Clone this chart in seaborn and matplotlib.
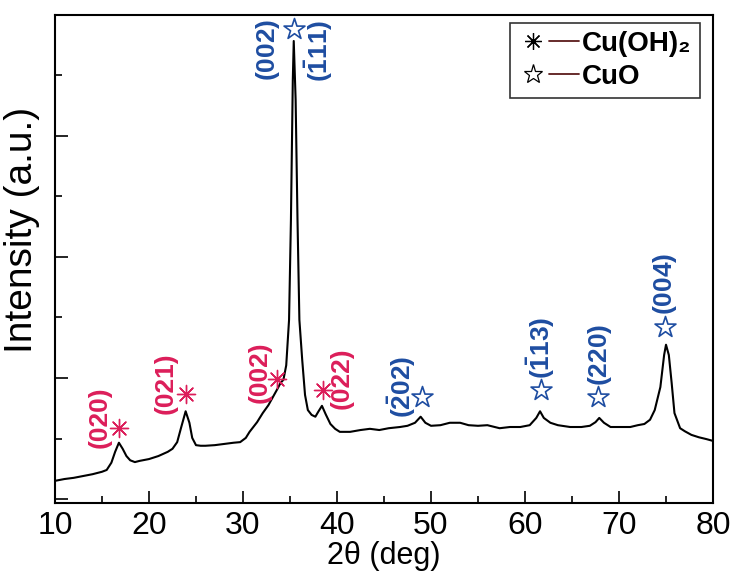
import matplotlib
matplotlib.use("Agg")
import matplotlib.pyplot as plt
import seaborn as sns
import pandas as pd
from matplotlib.lines import Line2D
from matplotlib.legend_handler import HandlerTuple
from matplotlib.ticker import MultipleLocator

# ---------------- data ----------------
two_theta = [10.0, 11.0, 12.0, 13.0, 14.0, 15.0, 15.5, 16.0, 16.4, 16.8, 17.2, 17.6,
             18.0, 18.5, 19.0, 20.0, 21.0, 22.0, 22.5, 23.0, 23.4, 23.9, 24.3, 24.6,
             25.0, 25.5, 26.0, 27.0, 28.0, 29.0, 29.7, 30.3, 30.7, 31.5, 32.1, 32.7,
             33.2, 33.7, 34.0, 34.3, 34.6, 34.9, 35.1, 35.3, 35.4, 35.6, 35.8, 36.0,
             36.3, 36.6, 36.9, 37.3, 37.7, 38.0, 38.4, 38.8, 39.3, 39.8, 40.3, 41.4,
             42.5, 43.5, 44.5, 45.5, 46.7, 47.5, 48.3, 48.9, 49.4, 50.0, 51.0, 52.0,
             53.1, 54.0, 55.0, 56.0, 57.3, 58.4, 59.5, 60.5, 61.2, 61.6, 62.0, 62.7,
             63.5, 64.8, 66.0, 66.9, 67.5, 67.9, 68.4, 69.1, 70.0, 71.2, 72.0, 72.7,
             73.3, 73.8, 74.4, 74.8, 75.0, 75.3, 75.6, 75.9, 76.5, 77.0, 77.7, 78.5,
             79.3, 80.0]
intensity = [0.30, 0.33, 0.35, 0.38, 0.41, 0.45, 0.48, 0.60, 0.78, 0.93, 0.83, 0.71,
             0.64, 0.61, 0.63, 0.66, 0.71, 0.78, 0.83, 0.94, 1.17, 1.45, 1.26, 1.01,
             0.89, 0.88, 0.88, 0.89, 0.91, 0.93, 0.94, 1.01, 1.11, 1.27, 1.42, 1.55,
             1.69, 1.83, 1.92, 1.97, 2.21, 2.96, 4.61, 6.93, 7.57, 6.60, 4.61, 2.96,
             2.30, 1.72, 1.47, 1.39, 1.36, 1.44, 1.54, 1.40, 1.24, 1.16, 1.11, 1.11,
             1.14, 1.16, 1.14, 1.17, 1.19, 1.21, 1.26, 1.36, 1.26, 1.21, 1.22, 1.26,
             1.26, 1.22, 1.21, 1.22, 1.17, 1.19, 1.19, 1.22, 1.34, 1.45, 1.34, 1.26,
             1.22, 1.19, 1.19, 1.21, 1.27, 1.34, 1.26, 1.19, 1.19, 1.19, 1.22, 1.24,
             1.31, 1.47, 1.85, 2.38, 2.55, 2.38, 1.92, 1.42, 1.17, 1.12, 1.06, 1.02,
             0.99, 0.96]

# Cu(OH)2 reflections
cuoh_x = [16.8, 23.9, 33.6, 38.5]
cuoh_y = [1.17, 1.74, 1.98, 1.80]
cuoh_labels = ["(020)", "(021)", "(002)", "(022)"]
cuoh_label_x = [14.8, 21.8, 31.8, 40.5]
cuoh_label_y = [1.36, 1.92, 2.10, 2.00]

# CuO reflections
cuo_x = [35.4, 49.0, 61.7, 67.8, 74.9]
cuo_y = [7.77, 1.69, 1.80, 1.69, 2.84]
cuo_labels = [r"$\mathbf{(002)}$", r"$\mathbf{(\bar{1}11)}$", r"$\mathbf{(\bar{2}02)}$",
              r"$\mathbf{(\bar{1}13)}$", r"$\mathbf{(220)}$", r"$\mathbf{(004)}$"]
cuo_label_x = [32.7, 38.0, 46.9, 61.7, 68.0, 74.9]
cuo_label_y = [7.42, 7.40, 1.85, 2.50, 2.38, 3.55]

x_ticks = [10, 20, 30, 40, 50, 60, 70, 80]
legend_labels = ["Cu(OH)\u2082", "CuO"]

# ---------------- styling ----------------
RED = "#DC1E5A"
BLUE = "#1E4DA1"
sns.set_theme(style="ticks")
plt.rcParams["font.family"] = ["Liberation Sans", "DejaVu Sans"]
plt.rcParams["mathtext.fontset"] = "custom"
plt.rcParams["mathtext.rm"] = "Liberation Sans"
plt.rcParams["mathtext.bf"] = "Liberation Sans:bold"
plt.rcParams["text.color"] = "black"
plt.rcParams["axes.labelcolor"] = "black"
plt.rcParams["xtick.color"] = "black"
plt.rcParams["ytick.color"] = "black"
plt.rcParams["xtick.labelcolor"] = "black"

fig = plt.figure(figsize=(7.34, 5.74), dpi=100)
ax = fig.add_axes([0.0749, 0.1237, 0.8965, 0.8502])

df = pd.DataFrame({"two_theta": two_theta, "intensity": intensity})
sns.lineplot(data=df, x="two_theta", y="intensity", ax=ax, color="black",
             linewidth=1.5, sort=False, estimator=None)

asterisk = (8, 2, 0)
sns.scatterplot(x=cuoh_x, y=cuoh_y, ax=ax, marker=asterisk, s=170, color=RED,
                linewidth=1.0, zorder=5)
sns.scatterplot(x=cuo_x, y=cuo_y, ax=ax, marker="*", s=250, facecolor="white",
                edgecolor=BLUE, linewidth=1.2, zorder=5)

for lx, ly, t in zip(cuoh_label_x, cuoh_label_y, cuoh_labels):
    ax.text(lx, ly, t, rotation=90, ha="center", va="center", color=RED,
            fontsize=19, fontweight="bold")
for lx, ly, t in zip(cuo_label_x, cuo_label_y, cuo_labels):
    ax.text(lx, ly, t, rotation=90, ha="center", va="center", color=BLUE,
            fontsize=19, fontweight="bold")

ax.set_xlim(10, 80)
ax.set_ylim(-0.066, 8.0)
ax.set_xticks(x_ticks)
ax.xaxis.set_minor_locator(MultipleLocator(5))
ax.yaxis.set_major_locator(MultipleLocator(2))
ax.yaxis.set_minor_locator(MultipleLocator(1))
ax.set_yticklabels([])
ax.tick_params(axis="both", which="major", direction="in", length=9, width=1.2,
               labelsize=23, pad=6, color="black", labelcolor="black")
ax.tick_params(axis="both", which="minor", direction="in", length=5, width=1.2,
               color="black")
ax.set_xlabel("2\u03b8 (deg)", fontsize=22, labelpad=0, color="black")
ax.set_ylabel("Intensity (a.u.)", fontsize=28, color="black")
ax.yaxis.set_label_coords(-0.022, 0.56)
for s in ax.spines.values():
    s.set_visible(True)
    s.set_linewidth(1.5)
    s.set_color("black")

h1 = (Line2D([], [], linestyle="none", marker=asterisk, markersize=12,
             markeredgewidth=0.9, color="black"),
      Line2D([], [], color="#5A1A1A", linewidth=1.3))
h2 = (Line2D([], [], linestyle="none", marker="*", markersize=14,
             markerfacecolor="white", markeredgecolor="black", markeredgewidth=0.9),
      Line2D([], [], color="#5A1A1A", linewidth=1.3))
leg = ax.legend([h1, h2], legend_labels, handler_map={tuple: HandlerTuple(ndivide=2, pad=0)},
                loc="upper right", bbox_to_anchor=(0.980, 0.984), borderaxespad=0,
                frameon=True, fancybox=False, edgecolor="black", handlelength=2.2,
                handletextpad=0.1, borderpad=0.3, labelspacing=0.25,
                prop={"weight": "bold", "size": 20, "family": ["Liberation Sans", "DejaVu Sans"]})
leg.get_frame().set_linewidth(1.2)
for t in leg.get_texts():
    t.set_color("black")

fig.savefig("out.png", dpi=100)
